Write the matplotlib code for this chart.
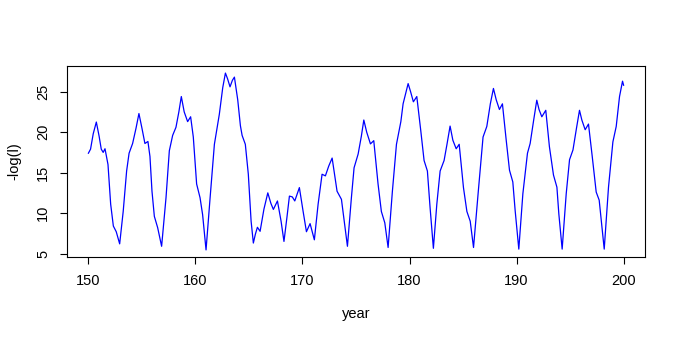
import matplotlib
matplotlib.use("Agg")
import matplotlib.pyplot as plt

plt.rcParams['font.family'] = ['Liberation Sans', 'DejaVu Sans']

# values
year = [150.0, 150.2, 150.45, 150.74, 151.0, 151.2, 151.38, 151.55, 151.83, 152.08,
        152.33, 152.6, 152.92, 153.25, 153.57, 153.8, 154.13, 154.45, 154.72, 155.0,
        155.28, 155.56, 155.75, 155.94, 156.16, 156.47, 156.84, 157.25, 157.56, 157.87,
        158.18, 158.45, 158.68, 158.95, 159.27, 159.55, 159.8, 160.11, 160.43, 160.67,
        160.99, 161.37, 161.77, 162.23, 162.55, 162.8, 163.0, 163.23, 163.45, 163.64,
        163.95, 164.2, 164.36, 164.66, 164.94, 165.2, 165.41, 165.6, 165.79, 166.04,
        166.4, 166.76, 167.05, 167.28, 167.66, 168.0, 168.27, 168.55, 168.78, 169.05,
        169.28, 169.71, 170.06, 170.37, 170.71, 171.11, 171.46, 171.83, 172.14, 172.45,
        172.77, 173.23, 173.64, 173.9, 174.2, 174.57, 174.82, 175.2, 175.5, 175.73,
        176.0, 176.35, 176.66, 177.06, 177.37, 177.69, 178.0, 178.4, 178.78, 179.19,
        179.4, 179.87, 180.1, 180.36, 180.68, 181.05, 181.36, 181.67, 181.92, 182.23,
        182.55, 182.86, 183.23, 183.5, 183.79, 184.05, 184.36, 184.64, 185.04, 185.36,
        185.67, 185.98, 186.42, 186.87, 187.22, 187.55, 187.84, 188.1, 188.4, 188.68,
        189.03, 189.34, 189.65, 189.87, 190.21, 190.59, 191.02, 191.27, 191.6, 191.89,
        192.1, 192.36, 192.73, 193.07, 193.45, 193.77, 193.95, 194.26, 194.64, 194.95,
        195.27, 195.6, 195.88, 196.1, 196.41, 196.72, 197.07, 197.44, 197.72, 197.91,
        198.19, 198.59, 199.0, 199.31, 199.62, 199.9, 200.0]

neg_log_l = [17.4, 17.9, 19.8, 21.25, 19.5, 17.9, 17.5, 17.95, 16.0, 11.1,
             8.4, 7.7, 6.2, 10.2, 15.2, 17.4, 18.6, 20.5, 22.3, 20.5,
             18.6, 18.85, 17.0, 12.7, 9.6, 8.2, 5.9, 11.9, 17.7, 19.6,
             20.6, 22.5, 24.4, 22.5, 21.3, 21.9, 19.4, 13.6, 11.9, 9.8,
             5.45, 11.9, 18.5, 22.2, 25.5, 27.3, 26.6, 25.6, 26.4, 26.8,
             24.0, 20.8, 19.6, 18.5, 14.8, 9.0, 6.3, 7.4, 8.25, 7.75,
             10.5, 12.5, 11.2, 10.45, 11.5, 9.0, 6.5, 9.5, 12.1, 12.0,
             11.5, 13.15, 10.2, 7.7, 8.7, 6.7, 11.1, 14.8, 14.6, 15.8,
             16.8, 12.7, 11.7, 9.0, 5.9, 11.9, 15.6, 17.3, 19.5, 21.5,
             20.0, 18.55, 18.95, 13.6, 10.2, 8.8, 5.75, 12.7, 18.5, 21.3,
             23.5, 26.0, 25.0, 23.75, 24.4, 20.2, 16.5, 15.2, 10.7, 5.65,
             11.1, 15.2, 16.5, 18.5, 20.75, 19.0, 17.95, 18.5, 13.15, 10.2,
             9.0, 5.75, 12.6, 19.4, 20.7, 23.5, 25.4, 24.0, 22.8, 23.5,
             19.05, 15.3, 13.85, 10.3, 5.55, 12.4, 17.4, 18.6, 21.5, 23.95,
             22.8, 21.9, 22.7, 18.2, 14.7, 13.2, 9.9, 5.55, 12.4, 16.6,
             17.8, 20.5, 22.7, 21.5, 20.3, 21.0, 17.0, 12.6, 11.6, 9.1,
             5.55, 13.2, 18.8, 20.7, 24.4, 26.3, 25.8]

x_ticks = [150, 160, 170, 180, 190, 200]
y_ticks = [5, 10, 15, 20, 25]

fig = plt.figure(figsize=(6.8, 3.4), dpi=100)
ax = fig.add_axes([67 / 680, 83 / 340, 578 / 680, 191 / 340])

ax.plot(year, neg_log_l, color='#0000FF', lw=0.9, solid_joinstyle='round')
ax.margins(x=0.04, y=0.04)

ax.set_xticks(x_ticks)
ax.set_yticks(y_ticks)
ax.tick_params(direction='out', length=5, width=0.8, labelsize=10.5, pad=7)
plt.setp(ax.get_yticklabels(), rotation=90, va='center')

ax.set_xlabel("year", fontsize=10.5, labelpad=14)
ax.set_ylabel("-log(l)", fontsize=10.5, labelpad=11)

for s in ax.spines.values():
    s.set_linewidth(0.8)

fig.savefig("out.png", dpi=100)
